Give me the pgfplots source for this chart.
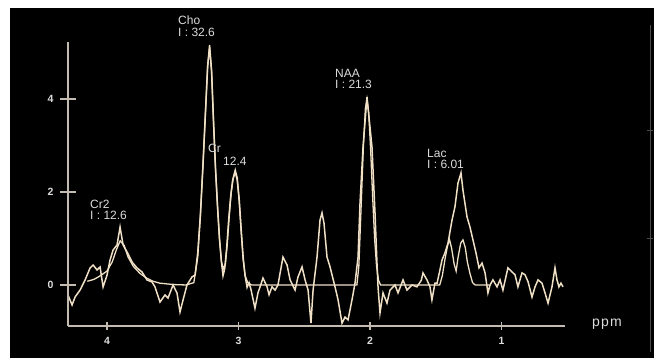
\documentclass[border=0pt]{standalone}
\usepackage{pgfplots}
\pgfplotsset{compat=1.18}
\usepackage{fontspec}
\setmainfont{Liberation Sans}
\definecolor{spec}{RGB}{240,224,198}
\definecolor{axcol}{RGB}{195,186,176}
\definecolor{txt}{RGB}{220,220,220}
\definecolor{dim}{RGB}{75,75,75}
\pgfplotsset{
  mribase/.style={
    at={(68pt,32pt)}, anchor=south west,
    scale only axis, width=497pt, height=284pt,
    xmin=0.517, xmax=4.297, x dir=reverse,
    ymin=-0.882, ymax=5.226,
    every tick/.style={color=axcol, line width=1.4pt},
    tick align=outside,
    ticklabel style={font=\fontsize{10.5}{12}\selectfont\bfseries, color=txt},
    /pgf/number format/assume math mode=true,
    clip=false,
  },
  noarrows/.style={
    axis line style={-, color=axcol, line width=1.4pt},
    every outer x axis line/.append style={-},
    every outer y axis line/.append style={-},
  }
}
\begin{document}
\begin{tikzpicture}
\useasboundingbox (0pt,0pt) rectangle (659pt,358pt);
\fill[white] (0pt,0pt) rectangle (659pt,358pt);
\fill[black] (10pt,0pt) rectangle (654pt,350pt);
\draw[dim, line width=0.8pt] (650pt,333pt) -- (650pt,6pt);
\draw[dim, line width=0.8pt] (647pt,228pt) -- (653pt,228pt);
\draw[dim, line width=0.8pt] (647pt,120pt) -- (653pt,120pt);
\begin{axis}[mribase,
  axis x line=bottom, axis y line=none, noarrows,
  xtick={1,2,3,4}, ytick=\empty,
  major tick length=8pt,
  xticklabel style={yshift=-4pt},
]
\addplot[spec, line width=1.5pt] coordinates {
(4.297,-0.215) (4.266,-0.430) (4.243,-0.258) (4.205,-0.108) (4.167,0.108)
(4.129,0.366) (4.106,0.430) (4.076,0.323) (4.053,0.387) (4.030,-0.043)
(4.000,0.215) (3.977,0.538) (3.954,0.753) (3.924,0.860) (3.901,1.247)
(3.878,0.860) (3.848,0.710) (3.810,0.495) (3.772,0.366) (3.734,0.280)
(3.696,0.108) (3.658,0.065) (3.635,-0.043) (3.597,-0.366) (3.559,-0.215)
(3.536,-0.280) (3.498,0.000) (3.468,-0.172) (3.445,-0.581) (3.422,-0.323)
(3.392,0.000) (3.354,0.172) (3.330,0.215) (3.31,0.7) (3.29,1.5) (3.27,2.6)
(3.25,3.8) (3.235,4.7) (3.22,5.16) (3.205,4.6) (3.19,3.5) (3.175,2.5)
(3.16,1.7) (3.145,1.0) (3.13,0.5) (3.118,0.2) (3.105,0.35) (3.09,0.8)
(3.075,1.4) (3.06,1.9) (3.045,2.25) (3.025,2.47) (3.01,2.3) (2.995,1.85)
(2.98,1.2) (2.965,0.6) (2.95,0.2) (2.935,-0.05) (2.92,0.05) (2.905,-0.1)
(2.875,-0.5) (2.852,-0.17) (2.814,0.15) (2.783,-0.04) (2.768,-0.21)
(2.745,-0.04) (2.722,-0.11) (2.700,0.00) (2.662,0.60) (2.631,0.43)
(2.608,0.11) (2.570,-0.11) (2.548,0.17) (2.517,0.39) (2.494,0.11)
(2.471,-0.11) (2.449,-0.82) (2.433,-0.11) (2.403,0.60) (2.380,1.40)
(2.365,1.55) (2.350,1.33) (2.327,0.60) (2.304,0.39) (2.266,-0.04)
(2.243,-0.32) (2.213,-0.82) (2.190,-0.69) (2.167,-0.75) (2.137,-0.32)
(2.114,0.04) (2.091,0.60) (2.076,1.76) (2.053,2.97) (2.023,4.04)
(1.985,2.97) (1.962,1.55) (1.947,0.47) (1.939,-0.04) (1.924,-0.60)
(1.901,-0.17) (1.871,-0.39) (1.848,-0.11) (1.810,0.00) (1.787,-0.17)
(1.749,0.11) (1.719,-0.11) (1.681,0.00) (1.643,-0.04) (1.610,0.10)
(1.597,0.26) (1.567,0.11) (1.544,-0.04) (1.529,-0.32) (1.506,0.04)
(1.490,0.04) (1.470,0.30) (1.452,0.54) (1.430,0.69) (1.407,0.90)
(1.376,1.40) (1.354,1.68) (1.331,2.19) (1.308,2.41) (1.293,2.04)
(1.262,1.46) (1.240,1.25) (1.217,0.97) (1.194,0.69) (1.171,0.37)
(1.148,0.47) (1.125,0.26) (1.103,-0.17) (1.087,0.00) (1.065,0.11)
(1.034,-0.04) (1.011,0.11) (0.989,-0.11) (0.951,0.37) (0.920,0.28)
(0.897,0.22) (0.875,-0.04) (0.844,0.26) (0.821,0.22) (0.798,0.07)
(0.768,-0.26) (0.745,-0.04) (0.722,0.11) (0.692,0.04) (0.669,-0.17)
(0.646,-0.39) (0.616,-0.04) (0.593,0.37) (0.578,0.11) (0.563,-0.04)
(0.548,0.04) (0.532,-0.04)
};
\addplot[spec, line width=1.3pt] coordinates {
(4.15,0.08) (4.10,0.12) (4.05,0.2) (4.00,0.3) (3.96,0.5) (3.93,0.75)
(3.90,0.95) (3.87,0.85) (3.84,0.6) (3.80,0.4) (3.75,0.25) (3.70,0.15)
(3.65,0.08) (3.60,0.04) (3.50,0.01) (3.40,0.0) (3.34,0.05) (3.31,0.6)
(3.29,1.5) (3.27,2.6) (3.25,3.8) (3.235,4.7) (3.22,5.1) (3.205,4.6)
(3.19,3.5) (3.175,2.5) (3.16,1.7) (3.145,1.0) (3.13,0.5) (3.115,0.35)
(3.10,0.45) (3.085,0.9) (3.07,1.5) (3.055,2.0) (3.04,2.3) (3.025,2.42)
(3.01,2.25) (2.995,1.8) (2.98,1.15) (2.965,0.55) (2.95,0.2) (2.93,0.05)
(2.90,0) (2.10,0) (2.085,0.4) (2.07,1.5) (2.05,3.0) (2.035,3.8)
(2.023,4.0) (2.01,3.7) (1.995,2.9) (1.98,1.9) (1.965,1.0) (1.95,0.4)
(1.935,0.1) (1.92,0) (1.47,0) (1.45,0.2) (1.43,0.55) (1.41,0.85)
(1.395,0.97) (1.38,0.8) (1.36,0.45) (1.345,0.3) (1.33,0.6) (1.31,0.9)
(1.293,0.97) (1.275,0.8) (1.26,0.5) (1.24,0.25) (1.22,0.05) (1.20,0)
(1.09,0)
};
\end{axis}
\begin{axis}[mribase,
  axis x line=none, axis y line=left, noarrows,
  xtick=\empty, ytick={0,2,4},
  major tick length=16pt,
  yticklabel style={xshift=-3pt},
]
\end{axis}
\begin{scope}[x=1pt, y=1pt, every node/.style={inner sep=0pt, anchor=west, text=txt, font=\fontsize{12}{13}\selectfont}]
\node at (178,337.5) {Cho};
\node at (178,326) {I : 32.6};
\node at (208,209.5) {Cr};
\node at (223,197) {12.4};
\node at (335,284.5) {NAA};
\node at (335,274) {I : 21.3};
\node at (427,205) {Lac};
\node at (427,194) {I : 6.01};
\node at (90,153.5) {Cr2};
\node at (90,143) {I : 12.6};
\node[font=\fontsize{14}{15}\selectfont\addfontfeature{LetterSpace=8}] at (592,34) {ppm};
\end{scope}
\end{tikzpicture}
\end{document}
